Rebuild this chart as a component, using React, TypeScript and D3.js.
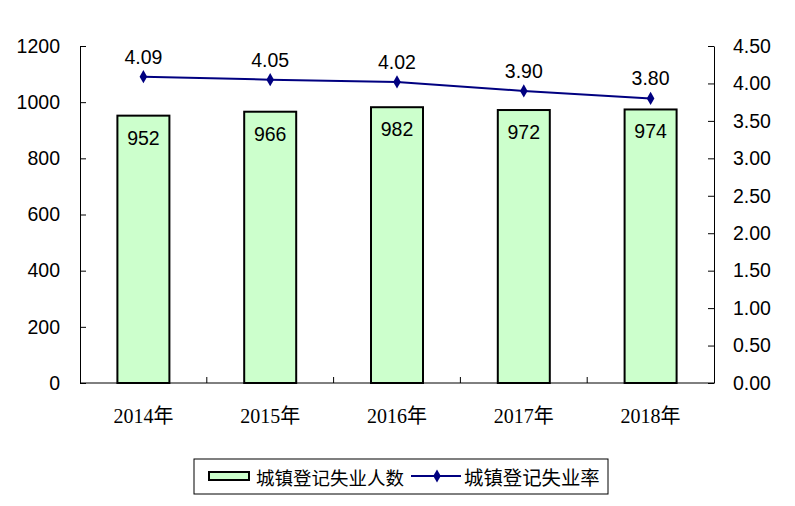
import React, { useEffect, useRef } from "react";
import * as d3 from "d3";

const years = ["2014年", "2015年", "2016年", "2017年", "2018年"];
const persons = [952, 966, 982, 972, 974];
const rates = [4.09, 4.05, 4.02, 3.9, 3.8];
const leftTicks = [0, 200, 400, 600, 800, 1000, 1200];
const rightTicks = [0, 0.5, 1, 1.5, 2, 2.5, 3, 3.5, 4, 4.5];

function App() {
  const svgRef = useRef<SVGSVGElement>(null);

  useEffect(() => {
    const width = 795;
    const height = 506;
    const left = 80, right = 714, top = 46, bottom = 383;
    const numFont = "Arial, 'Liberation Sans', sans-serif";
    const cnFont = "'Liberation Serif', 'Noto Sans CJK SC', serif";
    const fs = 19.5;

    const svg = d3.select(svgRef.current)
      .attr("width", width)
      .attr("height", height)
      .style("display", "block")
      .style("background", "#fff");
    svg.selectAll("*").remove();

    const x = d3.scaleBand().domain(years).range([left, right]).paddingInner(0).paddingOuter(0);
    const yL = d3.scaleLinear().domain([0, 1200]).range([bottom, top]);
    const yR = d3.scaleLinear().domain([0, 4.5]).range([bottom, top]);

    // left axis
    const axL = svg.append("g")
      .attr("transform", `translate(${left},0)`)
      .call(d3.axisLeft(yL).tickValues(leftTicks).tickFormat(d3.format("d")).tickSizeInner(-6).tickSizeOuter(0).tickPadding(20));
    axL.select(".domain").attr("stroke", "#000");
    axL.selectAll("text").attr("font-family", numFont).attr("font-size", fs).attr("fill", "#000");

    // right axis
    const axR = svg.append("g")
      .attr("transform", `translate(${right},0)`)
      .call(d3.axisRight(yR).tickValues(rightTicks).tickFormat(d3.format(".2f")).tickSizeInner(-6).tickSizeOuter(0).tickPadding(19));
    axR.select(".domain").attr("stroke", "#000");
    axR.selectAll("text").attr("font-family", numFont).attr("font-size", fs).attr("fill", "#000");

    // bottom axis
    svg.append("line")
      .attr("x1", left).attr("x2", right).attr("y1", bottom).attr("y2", bottom)
      .attr("stroke", "#000");
    svg.append("g").selectAll("line")
      .data(years.slice(1))
      .join("line")
      .attr("x1", d => x(d)!).attr("x2", d => x(d)!)
      .attr("y1", bottom).attr("y2", bottom - 6)
      .attr("stroke", "#000");
    svg.append("g").selectAll("text")
      .data(years)
      .join("text")
      .attr("x", d => x(d)! + x.bandwidth() / 2)
      .attr("y", 423)
      .attr("text-anchor", "middle")
      .attr("font-family", cnFont)
      .attr("font-size", 20)
      .text(d => d);

    // bars
    const bw = 52;
    svg.append("g").selectAll("rect")
      .data(persons)
      .join("rect")
      .attr("x", (d, i) => x(years[i])! + x.bandwidth() / 2 - bw / 2)
      .attr("y", d => yL(d))
      .attr("width", bw)
      .attr("height", d => bottom - yL(d))
      .attr("fill", "#ccffcc")
      .attr("stroke", "#000")
      .attr("stroke-width", 2);
    svg.append("g").selectAll("text")
      .data(persons)
      .join("text")
      .attr("x", (d, i) => x(years[i])! + x.bandwidth() / 2)
      .attr("y", d => yL(d) + 29)
      .attr("text-anchor", "middle")
      .attr("font-family", numFont)
      .attr("font-size", fs)
      .text(d => d);

    // line
    const line = d3.line<number>()
      .x((d, i) => x(years[i])! + x.bandwidth() / 2)
      .y(d => yR(d));
    svg.append("path")
      .datum(rates)
      .attr("d", line)
      .attr("fill", "none")
      .attr("stroke", "#000080")
      .attr("stroke-width", 2);
    const diamond = d3.symbol().type(d3.symbolDiamond).size(50);
    svg.append("g").selectAll("path")
      .data(rates)
      .join("path")
      .attr("transform", (d, i) => `translate(${x(years[i])! + x.bandwidth() / 2},${yR(d)})`)
      .attr("d", diamond)
      .attr("fill", "#000080");
    svg.append("g").selectAll("text")
      .data(rates)
      .join("text")
      .attr("x", (d, i) => x(years[i])! + x.bandwidth() / 2)
      .attr("y", d => yR(d) - 13)
      .attr("text-anchor", "middle")
      .attr("font-family", numFont)
      .attr("font-size", fs)
      .text(d => d3.format(".2f")(d));

    // legend
    const lg = svg.append("g");
    lg.append("rect")
      .attr("x", 194).attr("y", 459).attr("width", 414).attr("height", 35)
      .attr("fill", "#fff").attr("stroke", "#000");
    lg.append("rect")
      .attr("x", 209).attr("y", 472).attr("width", 40).attr("height", 8)
      .attr("fill", "#ccffcc").attr("stroke", "#000").attr("stroke-width", 2);
    lg.append("text")
      .attr("x", 256).attr("y", 485)
      .attr("font-family", "'Noto Sans CJK SC', sans-serif")
      .attr("font-size", 18.5)
      .text("城镇登记失业人数");
    lg.append("line")
      .attr("x1", 411).attr("x2", 461).attr("y1", 476).attr("y2", 476)
      .attr("stroke", "#000080").attr("stroke-width", 2);
    lg.append("path")
      .attr("transform", "translate(437,476)")
      .attr("d", diamond)
      .attr("fill", "#000080");
    lg.append("text")
      .attr("x", 464).attr("y", 485)
      .attr("font-family", "'Noto Sans CJK SC', sans-serif")
      .attr("font-size", 19.4)
      .text("城镇登记失业率");
  }, []);

  return (
    <div style={{ margin: -8 }}>
      <svg ref={svgRef}></svg>
    </div>
  );
}

export default App;
